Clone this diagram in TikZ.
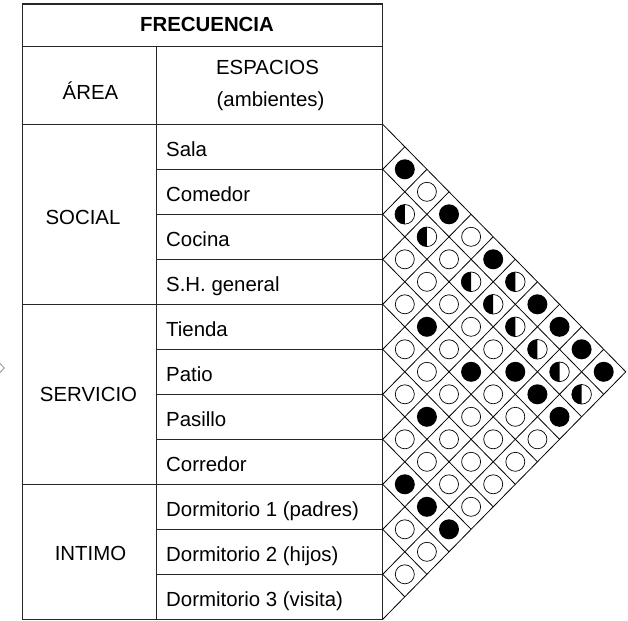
\documentclass[tikz,border=0pt]{standalone}
\usepackage{fontspec}
\setmainfont{Liberation Sans}
\begin{document}
\begin{tikzpicture}[x=1pt,y=-1pt]
\tikzset{
  tbl/.style={line width=1.3pt, draw=black!85},
  gridline/.style={line width=0.8pt, draw=black},
  lbl/.style={font=\fontsize{20.4}{24}\selectfont, inner sep=0pt},
  blk/.style={fill=black},
  wht/.style={draw=black, line width=0.7pt},
}
\useasboundingbox (0,0) rectangle (628,620);
% table
\draw[tbl] (22.3,4) rectangle (382.7,619.3);
\draw[tbl] (22.3,46.7) -- (382.7,46.7);
\draw[tbl] (22.3,124.3) -- (382.7,124.3);
\draw[tbl] (22.3,304.3) -- (382.7,304.3);
\draw[tbl] (22.3,484.3) -- (382.7,484.3);
\draw[tbl] (156.7,46.7) -- (156.7,619.3);
\foreach \k in {1,2,3,5,6,7,9,10} {
  \draw[tbl] (156.7,124.3+45*\k) -- (382.7,124.3+45*\k);
}
% grid of the triangle
\foreach \k in {0,...,10} {
  \draw[gridline] (382.7,124.3+45*\k) -- ({382.7+(11-\k)*22.1},{124.3+45*\k+(11-\k)*22.5});
}
\foreach \k in {1,...,11} {
  \draw[gridline] (382.7,124.3+45*\k) -- ({382.7+\k*22.1},{124.3+45*\k-\k*22.5});
}
% circles
\foreach \i/\j in {1/2,1/4,1/6,1/8,1/9,1/10,1/11,3/9,3/10,3/11,4/6,4/8,6/8,8/9,8/10,8/11} {
  \fill[blk] ({382.7+(\j-\i)*22.1},{124.3+45*(\i+\j-1)/2}) circle[radius=10pt];
}
\foreach \i/\j in {1/3,1/5,2/5,3/4,3/5,3/6,3/7,3/8,4/5,4/7,4/9,4/10,4/11,5/6,5/7,5/8,5/9,5/10,5/11,6/7,6/9,6/10,6/11,7/8,7/9,7/10,7/11,9/10,9/11,10/11} {
  \draw[wht] ({382.7+(\j-\i)*22.1},{124.3+45*(\i+\j-1)/2}) circle[radius=9.5pt];
}
\foreach \i/\j in {1/7,2/3,2/4,2/6,2/7,2/8,2/9,2/10,2/11} {
  \fill[blk] ({382.7+(\j-\i)*22.1},{124.3+45*(\i+\j-1)/2}) ++(0pt,9.8pt) arc[start angle=90, end angle=270, radius=9.8pt] -- cycle;
  \draw[wht] ({382.7+(\j-\i)*22.1},{124.3+45*(\i+\j-1)/2}) circle[radius=9.8pt];
}
% small mark at left edge
\draw[black!45, line width=0.8pt] (0,363.5) -- (4.3,368) -- (0,372.5);
% header texts
\node[lbl, font=\fontsize{20.4}{24}\selectfont\bfseries, anchor=base] (frec) at (207,32) {FRECUENCIA};
\node[lbl, anchor=base] (area) at (90.5,100) {ÁREA};
\node[lbl, anchor=base] (esp) at (267.5,75) {ESPACIOS};
\node[lbl, anchor=base] (amb) at (270.5,107) {(ambientes)};
% area labels
\node[lbl, anchor=base] (social) at (83,225) {SOCIAL};
\node[lbl, anchor=base] (servicio) at (88.5,401.5) {SERVICIO};
\node[lbl, anchor=base] (intimo) at (90.5,560) {INTIMO};
% space labels
\foreach \n/\t [count=\r] in {sala/Sala,comedor/Comedor,cocina/Cocina,sh/S.H. general,tienda/Tienda,patio/Patio,pasillo/Pasillo,corredor/Corredor,d1/Dormitorio 1 (padres),d2/Dormitorio 2 (hijos),d3/Dormitorio 3 (visita)} {
  \node[lbl, anchor=base west] (\n) at (166,{124.3+45*(\r-0.5)+9.5}) {\t};
}
\end{tikzpicture}
\end{document}
